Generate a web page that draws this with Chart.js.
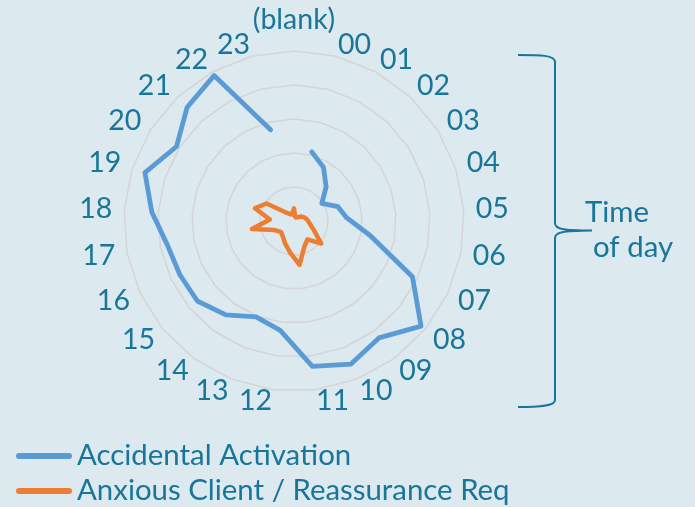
<!DOCTYPE html>
<html>
<head>
<meta charset="utf-8">
<script src="https://cdn.jsdelivr.net/npm/chart.js@4/dist/chart.umd.min.js"></script>
<style>
  html, body { margin: 0; padding: 0; background: #dce9ef; overflow: hidden; }
  /* the canvas carries a strip of headroom above the visible page */
  canvas { display: block; margin-top: -30px; }
</style>
</head>
<body>
<canvas id="radar" width="695" height="537"></canvas>
<script>
// Hour-of-day categories (first spoke is the pivot's empty bucket)
const hours = ['(blank)', '00', '01', '02', '03', '04', '05', '06', '07', '08', '09', '10', '11',
               '12', '13', '14', '15', '16', '17', '18', '19', '20', '21', '22', '23'];

// Call counts per hour
const accidentalActivation = [null, 21, 18, 13.8, 9.7, 13.6, 15.5, 22.8, 38.5, 48.5, 42.5, 45.3, 43.1,
                              32.4, 30.3, 34.1, 36.9, 37.1, 37.9, 41.9, 46.1, 40.9, 45.9, 48.8, 27.7];
const anxiousClient = [3.7, 1.3, 1.2, 1.5, 2.5, 3.3, 4.0, 4.8, 6.5, 10.4, 6.7, 8.2, 13.0,
                       9.3, 7.1, 5.6, 5.0, 6.3, 12.6, 7.1, 12.1, 9.6, 3.4, 2.3, 2.0];

const seriesNames = ['Accidental Activation', 'Anxious Client / Reassurance Req'];
const axisTitle = ['Time', 'of day'];

// Radial axis range and ring spacing
const radialMax = 50;
const ringStep = 10;

const TEXT = '#17769a';
const BG = '#dce9ef';
const BLUE = '#5b9bd5';
const ORANGE = '#ed7d31';
const GRID = '#d5d4d7';
const FAMILY = 'Lato, "Open Sans", sans-serif';
const LABEL_SIZE = 28.5;
const LEGEND_SIZE = 29.4;

// Extra canvas rows above the visible page, so labels near the top can overflow
const HEADROOM = 30;

// Frame of the radar: centre and outer ring radius in canvas pixels
const FRAME = { cx: 294, cy: 221 + HEADROOM, r: 170 };

const spokeAngle = i => i * 2 * Math.PI / hours.length;

const backgroundPlugin = {
  id: 'background',
  beforeDraw(chart) {
    const ctx = chart.ctx;
    ctx.save();
    ctx.fillStyle = BG;
    ctx.fillRect(0, 0, chart.width, chart.height);
    ctx.restore();
  }
};

// Legend (line swatches) plus the bracket with the axis caption
const annotationPlugin = {
  id: 'annotations',
  afterDraw(chart) {
    const ctx = chart.ctx;
    ctx.save();
    ctx.translate(0, HEADROOM);

    // legend
    ctx.font = LEGEND_SIZE + 'px ' + FAMILY;
    ctx.textBaseline = 'middle';
    ctx.lineCap = 'round';
    const rows = [456, 491];
    chart.data.datasets.forEach((ds, k) => {
      const y = rows[k];
      ctx.strokeStyle = ds.borderColor;
      ctx.lineWidth = 6;
      ctx.beginPath();
      ctx.moveTo(19, y);
      ctx.lineTo(69, y);
      ctx.stroke();
      ctx.fillStyle = TEXT;
      ctx.textAlign = 'left';
      ctx.fillText(ds.label, 77, y);
    });

    // curly bracket
    ctx.strokeStyle = TEXT;
    ctx.lineWidth = 2;
    ctx.lineCap = 'butt';
    ctx.beginPath();
    ctx.moveTo(518, 55);
    ctx.bezierCurveTo(540, 55, 555, 55, 555, 62);
    ctx.lineTo(555, 223);
    ctx.bezierCurveTo(555, 229, 562, 230.5, 592, 230.5);
    ctx.moveTo(592, 230.5);
    ctx.bezierCurveTo(562, 231, 555, 232, 555, 238);
    ctx.lineTo(555, 400);
    ctx.bezierCurveTo(555, 406, 540, 407, 518, 407);
    ctx.stroke();

    // caption
    ctx.fillStyle = TEXT;
    ctx.textAlign = 'left';
    ctx.textBaseline = 'alphabetic';
    ctx.font = LEGEND_SIZE + 'px ' + FAMILY;
    ctx.fillText(axisTitle[0], 585, 221.5);
    ctx.fillText(axisTitle[1], 593, 256.5);
    ctx.restore();
  }
};

const pad = { left: 80, right: 190, top: 20, bottom: 90 };

const chart = new Chart(document.getElementById('radar'), {
  type: 'radar',
  data: {
    labels: hours,
    datasets: [
      {
        label: seriesNames[0],
        data: accidentalActivation,
        borderColor: BLUE,
        backgroundColor: BLUE,
        borderWidth: 4.8,
        pointRadius: 0,
        pointHoverRadius: 0,
        fill: false,
        spanGaps: false,
        borderJoinStyle: 'round',
        borderCapStyle: 'round',
        tension: 0
      },
      {
        label: seriesNames[1],
        data: anxiousClient,
        borderColor: ORANGE,
        backgroundColor: ORANGE,
        borderWidth: 4.5,
        pointRadius: 0,
        pointHoverRadius: 0,
        fill: false,
        spanGaps: false,
        borderJoinStyle: 'round',
        borderCapStyle: 'round',
        tension: 0
      }
    ]
  },
  options: {
    responsive: false,
    animation: false,
    devicePixelRatio: 1,
    layout: { padding: Object.assign({}, pad) },
    plugins: {
      legend: { display: false },
      title: { display: false },
      tooltip: { enabled: false }
    },
    scales: {
      r: {
        min: 0,
        max: radialMax,
        beginAtZero: true,
        ticks: { display: false, stepSize: ringStep },
        angleLines: { display: false },
        grid: { color: GRID, lineWidth: 1.5 },
        pointLabels: {
          color: TEXT,
          padding: ctx => ctx.index === 0 ? 14 : 5 + 7 * Math.abs(Math.sin(spokeAngle(ctx.index))),
          font: ctx => ctx.index === 0
            ? { family: FAMILY, size: LABEL_SIZE, lineHeight: 1.2 }
            : { family: FAMILY, size: LABEL_SIZE,
                lineHeight: (11 * Math.abs(Math.cos(spokeAngle(ctx.index))) / LABEL_SIZE).toFixed(3) }
        }
      }
    }
  },
  plugins: [backgroundPlugin, annotationPlugin]
});

// Settle the radar into its frame: nudge the layout padding until the
// scale's centre and outer radius sit at FRAME.
for (let k = 0; k < 8; k++) {
  const s = chart.scales.r;
  const dx = FRAME.cx - s.xCenter;
  const dy = FRAME.cy - s.yCenter;
  const dr = FRAME.r - s.drawingArea;
  if (Math.abs(dx) < 0.5 && Math.abs(dy) < 0.5 && Math.abs(dr) < 0.5) break;
  pad.left += dx - dr;
  pad.right += -dx - dr;
  pad.top += dy - dr;
  pad.bottom += -dy - dr;
  chart.options.layout.padding = Object.assign({}, pad);
  chart.update('none');
}
</script>
</body>
</html>
